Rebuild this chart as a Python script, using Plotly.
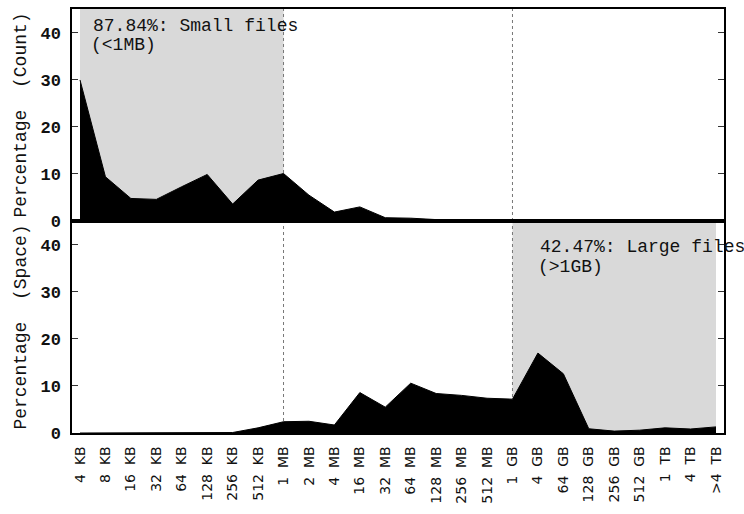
import plotly.graph_objects as go
from plotly.subplots import make_subplots

categories = ["4 KB", "8 KB", "16 KB", "32 KB", "64 KB", "128 KB", "256 KB", "512 KB",
              "1 MB", "2 MB", "4 MB", "16 MB", "32 MB", "64 MB", "128 MB", "256 MB", "512 MB",
              "1 GB", "4 GB", "64 GB", "128 GB", "256 GB", "512 GB",
              "1 TB", "4 TB", ">4 TB"]

count_pct = [30.0, 9.4, 4.8, 4.6, 7.3, 9.9, 3.6, 8.7,
             10.1, 5.5, 1.9, 3.0, 0.7, 0.6, 0.3, 0.05, 0.0,
             0.0, 0.0, 0.0, 0.0, 0.0, 0.0,
             0.0, 0.0, 0.0]

space_pct = [0.0, 0.0, 0.0, 0.0, 0.0, 0.05, 0.1, 1.1,
             2.4, 2.5, 1.7, 8.6, 5.5, 10.6, 8.4, 8.0, 7.4,
             7.2, 17.0, 12.6, 0.9, 0.4, 0.6,
             1.1, 0.85, 1.3]

tick_labels = ["4  KB", "8  KB", "16  KB", "32  KB", "64  KB", "128  KB", "256  KB", "512  KB",
               "1  MB", "2  MB", "4  MB", "16  MB", "32  MB", "64  MB", "128  MB", "256  MB", "512  MB",
               "1  GB", "4  GB", "64  GB", "128  GB", "256  GB", "512  GB",
               "1  TB", "4  TB", ">4  TB"]

y_ticks = [0, 10, 20, 30, 40]
small_label = ["87.84%: Small files", "(<1MB)"]
large_label = ["42.47%: Large files", "(>1GB)"]
small_range = ["4 KB", "1 MB"]
large_range = ["1 GB", ">4 TB"]
dividers = ["1 MB", "1 GB"]

W, H = 744, 514
ML, MR, MT, MB = 72, 20, 7, 81
PW, PH = W - ML - MR, H - MT - MB

def px_x(p):
    return (p - ML) / PW

def px_y(p):
    return (H - MB - p) / PH

fig = make_subplots(rows=2, cols=1, shared_xaxes=True, vertical_spacing=0)

fig.add_trace(go.Scatter(x=categories, y=count_pct, mode="lines", fill="tozeroy",
                         line=dict(color="black", width=1), fillcolor="black",
                         showlegend=False), row=1, col=1)
fig.add_trace(go.Scatter(x=categories, y=space_pct, mode="lines", fill="tozeroy",
                         line=dict(color="black", width=1), fillcolor="black",
                         showlegend=False), row=2, col=1)

idx = {c: i for i, c in enumerate(categories)}
gray = "#d9d9d9"
fig.add_shape(type="rect", xref="x", yref="y domain", x0=idx[small_range[0]], x1=idx[small_range[1]],
              y0=0, y1=1, fillcolor=gray, line=dict(width=0), layer="below")
fig.add_shape(type="rect", xref="x2", yref="y2 domain", x0=idx[large_range[0]], x1=idx[large_range[1]],
              y0=0, y1=1, fillcolor=gray, line=dict(width=0), layer="below")
for d in dividers:
    for xr_, yr_ in (("x", "y domain"), ("x2", "y2 domain")):
        fig.add_shape(type="line", xref=xr_, yref=yr_, x0=idx[d], x1=idx[d], y0=0, y1=1,
                      line=dict(color="#777777", width=1, dash="dot"), layer="below")

mono = "Liberation Mono"
afont = dict(family=mono, size=18, color="#111111")
for txt, x, y in ((small_label[0], 91, 24), (small_label[1], 89, 43.5),
                  (large_label[0], 538, 246), (large_label[1], 536, 266)):
    fig.add_annotation(text=txt, xref="paper", yref="paper", x=px_x(x), y=px_y(y),
                       xanchor="left", yanchor="middle", showarrow=False, font=afont)

xrange_ = [-8 / 25.44, 25 + 8 / 25.44]
common_x = dict(range=xrange_, showline=True, linecolor="black", linewidth=1.5, mirror=True,
                showgrid=False, zeroline=False, ticks="")
fig.update_xaxes(**common_x)
fig.update_xaxes(showticklabels=False, row=1, col=1)
fig.update_xaxes(showticklabels=True, tickangle=-90, row=2, col=1,
                 tickmode="array", tickvals=categories, ticktext=tick_labels,
                 tickfont=dict(family="DejaVu Sans", size=14, color="#111"),
                 ticklabelstandoff=6)

common_y = dict(range=[0, 45.1], tickvals=y_ticks, showline=True, linecolor="black",
                linewidth=1.5, mirror="ticks", ticks="inside", ticklen=6, tickcolor="#333",
                showgrid=False, zeroline=False, ticklabelstandoff=6,
                tickfont=dict(family=mono, size=17, color="#111", weight="bold"))
fig.update_yaxes(**common_y)
fig.update_yaxes(domain=[0.5, 1.0], row=1, col=1,
                 title=dict(text="Percentage  (Count)", standoff=9,
                            font=dict(family=mono, size=18, color="#111111")))
fig.update_yaxes(domain=[0.0, 0.5], row=2, col=1,
                 title=dict(text="Percentage  (Space)", standoff=9,
                            font=dict(family=mono, size=18, color="#111111")))

fig.update_layout(width=W, height=H, margin=dict(l=ML, r=MR, t=MT, b=MB),
                  paper_bgcolor="white", plot_bgcolor="white", showlegend=False)

fig.write_html("out.html")
